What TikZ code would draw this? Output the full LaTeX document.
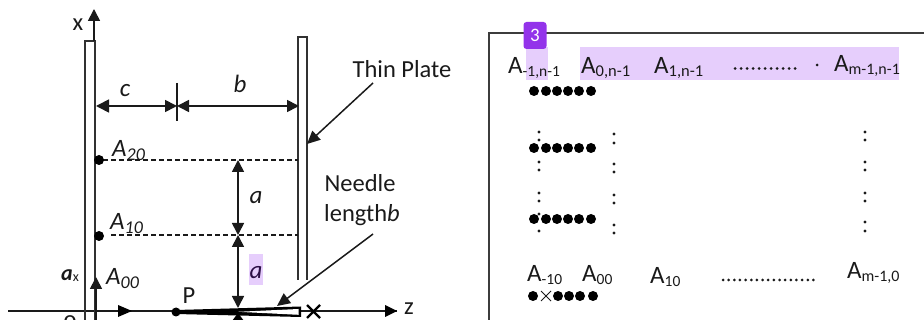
\documentclass[tikz,border=0pt]{standalone}
\usepackage{fontspec}
\setmainfont{Carlito}
\usetikzlibrary{arrows.meta}
\definecolor{hl}{HTML}{E6CEFC}
\definecolor{badge}{HTML}{9333EA}
\definecolor{ink}{HTML}{1A1A1A}
\tikzset{
  x=1pt,y=-1pt,
  plate/.style={draw=ink!90,line width=2pt},
  dim/.style={draw=ink,line width=1.7pt},
  arr/.style={-{Triangle[length=12pt,width=12pt]},dim},
  dashln/.style={draw=ink,line width=1.3pt,dash pattern=on 5pt off 3pt},
  lbl/.style={inner sep=0pt,text=ink,font=\fontsize{24.5}{28}\selectfont},
  ilbl/.style={lbl,font=\fontsize{25}{28}\selectfont\itshape},
  alb/.style={inner sep=0pt,anchor=base west,text=ink,font=\fontsize{25}{28}\selectfont},
  bigdot/.style={circle,fill=black,inner sep=0pt,minimum size=10pt},
  smalld/.style={circle,fill=ink,inner sep=0pt,minimum size=3.4pt},
  mdot/.style={circle,fill=black,inner sep=0pt,minimum size=10pt}
}
\newcommand{\Asub}[2]{A\raisebox{-3pt}{\fontsize{#1}{#1}\selectfont #2}}
\begin{document}
\begin{tikzpicture}
\useasboundingbox (0,0) rectangle (924,320);
% highlights
\fill[hl] (526,47) rectangle (548,80);
\fill[hl] (580,47) rectangle (899,80);
\fill[hl] (249,254) rectangle (263,285);
% z axis
\coordinate (zs) at (8,311);
\coordinate (ze) at (397,311);
\draw[draw=ink,line width=1.4pt] (zs) -- (ze);
\fill[black] (ze) -- (385,305) -- (385,317) -- cycle;
\fill[black] (132,311) -- (118,305) -- (118,317) -- cycle;
% left plate
\draw[plate] (85,330) -- (85,41) -- (95,41) -- (95,330);
% x axis
\coordinate (xs) at (94,41);
\coordinate (xe) at (94,9);
\draw[arr] (xs) -- (xe);
% right plate
\draw[plate] (298,280) -- (298,37) -- (307,37) -- (307,280);
% needle
\node[bigdot,minimum size=9pt] (P) at (176,312) {};
\fill[black] (176,310) -- (301,306.5) -- (301,317) -- (176,314) -- cycle;
\fill[white] (238,311.8) -- (298.5,309) -- (298.5,314.8) -- cycle;
% x mark
\draw[black,line width=2.2pt] (307,305) -- (320,318) (320,305) -- (307,318);
% c b dimension
\coordinate (c1) at (96,106);
\coordinate (c2) at (177,106);
\coordinate (c3) at (299,106);
\draw[dim,{Triangle[length=13pt,width=13pt]}-{Triangle[length=12pt,width=12pt]}] (c1) -- (c2);
\draw[dim,{Triangle[length=12pt,width=12pt]}-{Triangle[length=12pt,width=12pt]}] (c2) -- (c3);
\draw[ink,line width=1.2pt] (177,83) -- (177,121);
% dashed
\coordinate (d2a) at (103,160);
\coordinate (d2b) at (298,160);
\coordinate (d1a) at (111,235);
\coordinate (d1b) at (298,235);
\draw[dashln] (d2a) -- (d2b);
\draw[dashln] (d1a) -- (d1b);
\node[bigdot] (A20) at (99,160) {};
\node[bigdot] (A10) at (99,236) {};
% a dims
\coordinate (a2) at (238,160);
\coordinate (a1) at (238,235);
\coordinate (a0) at (238,308);
\draw[dim,{Triangle[length=12pt,width=12pt]}-{Triangle[length=12pt,width=12pt]}] (a2) -- (a1);
\draw[dim,{Triangle[length=12pt,width=12pt]}-{Triangle[length=12pt,width=12pt]}] (a1) -- (a0);
\fill[black] (238,313) -- (232,321) -- (244,321) -- cycle;
% ax arrow
\coordinate (ax0) at (96,320);
\coordinate (ax1) at (96,277);
\draw[dim,-{Triangle[length=12pt,width=12pt]}] (ax0) -- (ax1);
% leaders
\coordinate (tp) at (373,83);
\coordinate (tpe) at (307,144);
\draw[draw=ink,line width=1.5pt,-{Triangle[length=13pt,width=12pt]}] (tp) -- (tpe);
\coordinate (nl) at (373,234);
\coordinate (nle) at (277,306);
\draw[draw=ink,line width=1.5pt,-{Triangle[length=13pt,width=12pt]}] (nl) -- (nle);
% labels left
\node[lbl,anchor=base] (lx) at (78,31) {x};
\node[ilbl,anchor=base] (lc) at (125,97) {c};
\node[ilbl,anchor=base] (lb) at (240,93) {b};
\node[lbl,anchor=base] (ltp) at (402,78) {Thin Plate};
\node[lbl,anchor=base] (lne) at (360,192) {Needle};
\node[lbl,anchor=base west] (lle) at (324,222) {length\textit{b}};
\node[ilbl,anchor=base] (la1) at (256,204) {a};
\node[ilbl,anchor=base,text=black!50!badge!60!black] (la0) at (256,279) {a};
\node[inner sep=0pt,anchor=base west,text=ink,font=\fontsize{25}{28}\selectfont\itshape] (l20) at (112,157) {A\raisebox{-3.5pt}{\fontsize{18}{18}\selectfont 20}};
\node[inner sep=0pt,anchor=base west,text=ink,font=\fontsize{25}{28}\selectfont\itshape] (l10) at (110,230) {A\raisebox{-3.5pt}{\fontsize{18}{18}\selectfont 10}};
\node[inner sep=0pt,anchor=base west,text=ink,font=\fontsize{25}{28}\selectfont\itshape] (l00) at (106,285) {A\raisebox{-3.5pt}{\fontsize{18}{18}\selectfont 00}};
\node[inner sep=0pt,anchor=base west,text=ink,font=\fontsize{22}{24}\selectfont] (lax) at (61,281) {\textbf{\textit{a}}\raisebox{-1pt}{\fontsize{14}{14}\selectfont x}};
\node[lbl,anchor=base] (lP) at (189,304) {P};
\node[lbl,anchor=base] (lz) at (409,315) {z};
\node[lbl,anchor=base] (lo) at (70,328) {o};
% right frame
\draw[draw=ink!85,line width=2pt] (925,33) -- (489,33) -- (489,321);
% badge
\node[fill=badge,rounded corners=3pt,text=white,minimum width=23pt,minimum height=27pt,inner sep=0pt,font=\fontsize{19}{20}\selectfont] (bd) at (535,35.5) {3};
% matrix labels
\node[alb] (t1) at (508,74) {\Asub{15.5}{-1,n-1}};
\node[alb] (t2) at (581,74) {\Asub{16.5}{0,n-1}};
\node[alb] (t3) at (654,74) {\Asub{16.5}{1,n-1}};
\node[alb] (t4) at (834,72) {\Asub{16}{m-1,n-1}};
\node[alb] (b1) at (527,282) {\Asub{15.5}{-10}};
\node[alb] (b2) at (582,282) {\Asub{15.5}{00}};
\node[alb] (b3) at (650,284) {\Asub{15.5}{10}};
\node[alb] (b4) at (847,279) {\Asub{16}{m-1,0}};
% dot rows
\foreach \i/\xx in {0/534,1/546,2/557,3/568,4/579,5/591}{
  \node[mdot] (ra\i) at (\xx,91) {};
  \node[mdot] (rb\i) at (\xx,148) {};
  \node[mdot] (rc\i) at (\xx,219) {};
}
\foreach \i/\xx in {0/533,2/558,3/569,4/580,5/593}{
  \node[mdot] (rd\i) at (\xx,296) {};
}
\draw[ink,line width=1pt] (541,291) -- (551,301) (551,291) -- (541,301);
% vertical dots
\foreach \xx/\ys in {539/{132,140,162,170,193,201,214,231},614/{134,143,164,172,195,203,225,233},865/{132,140,162,170,193,201,222,231}}{
  \foreach \yy in \ys { \node[smalld] at (\xx,\yy) {}; }
}
% horizontal dotted
\foreach \n in {0,...,10}{ \node[smalld,minimum size=3pt] at ({735+\n*6},68.5) {}; }
\node[smalld,minimum size=3pt] at (817,65) {};
\foreach \n in {0,...,16}{ \node[smalld,minimum size=3pt] at ({723+\n*5.65},280) {}; }
\end{tikzpicture}
\end{document}
